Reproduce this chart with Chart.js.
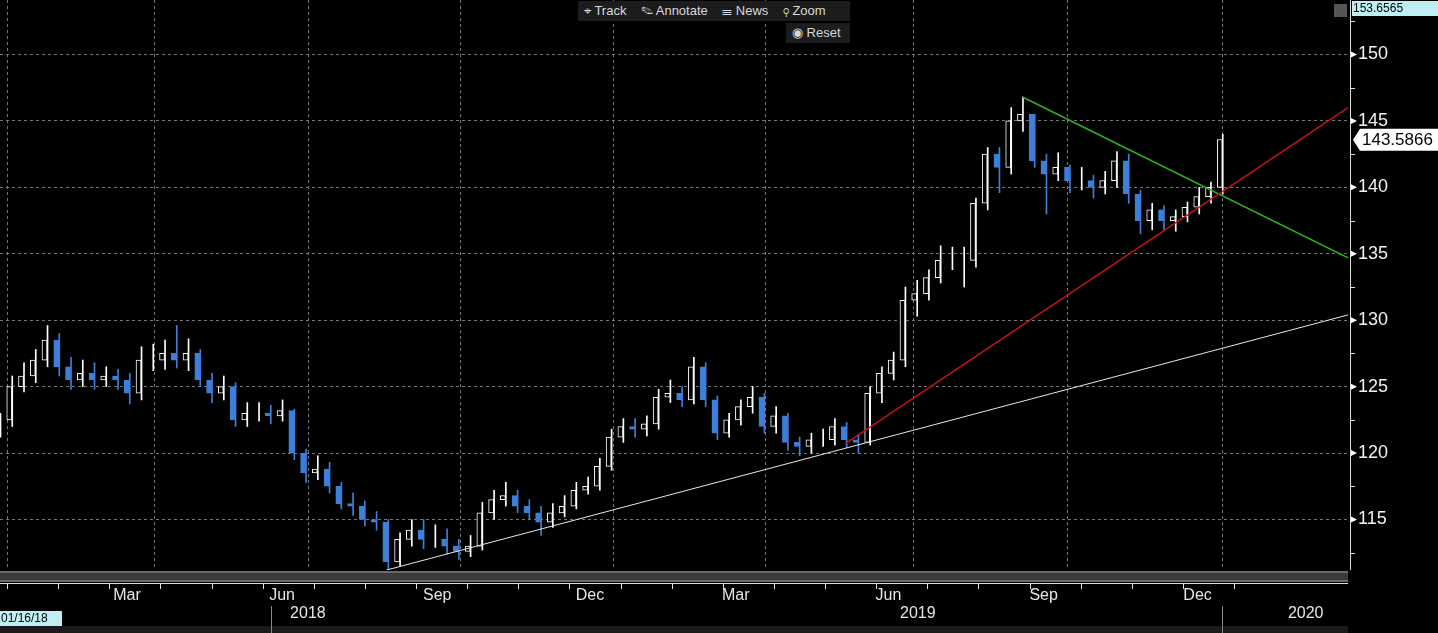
<!DOCTYPE html>
<html>
<head>
<meta charset="utf-8">
<script src="https://cdn.jsdelivr.net/npm/chart.js@4.4.1/dist/chart.umd.min.js"></script>
<style>
  html, body { margin: 0; padding: 0; background: #000; overflow: hidden; }
  #wrap { position: relative; width: 1438px; height: 633px; }
  .btn { position: absolute; background: #1c1c1c; color: #d8d8d8; font: 13px "Liberation Sans", Arial, sans-serif;
         height: 20px; line-height: 20px; padding: 0 6px; }
</style>
</head>
<body>
<div id="wrap">
  <canvas id="chart" width="1438" height="633"></canvas>
  <div class="btn" style="left:578px;top:1px;width:260px;">&#8982; Track &nbsp;&nbsp; &#9998; Annotate &nbsp;&nbsp; &#9776; News &nbsp;&nbsp; &#9906; Zoom</div>
  <div class="btn" style="left:786px;top:23px;width:52px;">&#9673; Reset</div>
</div>
<script>
// --- Data (weekly candles, week 0 = 01/16/18) ---
const closes = [122.5,125,125.8,127,128.5,126.5,125.5,126,125.5,125.8,125.5,124.5,127,127,127.5,127,127.5,125.5,124.5,125,
  122.5,123,123,122.8,123.2,120,118.5,118.8,117.5,116.2,116,115,114.8,111.8,113.5,114.2,113.5,113.5,113,112.6,
  113,115.5,116.5,116.8,116,115.5,114.8,115.5,116,117.2,117.5,119,121.2,122,121.8,122.2,124.2,124.5,124,126.5,
  124,121.5,122.5,123.5,124.2,122,122.8,120.8,120.5,121,121,122,121,120.8,124.5,126,127,131.5,132,133.2,
  134.5,134.5,134.5,138.8,142.5,141.5,145,145.5,142,141,141.5,140.5,140.5,140,140.5,142,139.5,137.5,138.3,137.5,
  137.8,138.5,139.3,140,143.6];
const opens = [121.5,122.5,125,125.8,127,128.5,126.5,125.5,126,125.5,125.8,125.5,124.5,127,127,127.5,127,127.5,125.5,124.5,
  125,122.5,123,123,122.8,123.2,120,118.5,118.8,117.5,116.2,116,115,114.8,111.8,113.5,114.2,113.5,113.5,113,
  112.6,113,115.5,116.5,116.8,116,115.5,114.8,115.5,116,117.2,117.5,119,121.2,122,121.8,122.2,124.2,124.5,124,
  126.5,124,121.5,122.5,123.5,124.2,122,122.8,120.8,120.5,121,121,122,121,120.8,124.5,126,127,131.5,132,
  133.2,134.5,134.5,134.5,138.8,142.5,141.5,145,145.5,142,141,141.5,140.5,140.5,140,140.5,142,139.5,137.5,138.3,
  137.5,137.8,138.5,139.3,140];
const highs = [123,125.8,126.8,127.8,129.6,129,127.2,127,126.8,126.5,126.3,126,128,128.2,128.5,129.6,128.6,127.8,126,125.8,
  125.3,123.8,123.8,123.6,124,123.3,120.3,119.8,119.3,117.8,117,116.4,115.6,115,114,115,115,114.6,114.3,113.5,
  113.8,116.3,117.2,117.8,117.2,116.5,116,116.2,116.8,117.8,118.2,119.6,121.8,122.6,122.6,122.8,124.8,125.5,125,127.2,
  126.8,124.3,123,124,125,124.5,123.5,123,121.2,121.5,121.8,122.6,122.3,121.4,125,126.5,127.6,132.5,133,133.8,
  135.6,135.5,135.5,139.2,143,143,146,146.8,145.5,142.5,142.6,141.7,141.5,140.9,141.2,142.7,142.5,139.8,138.8,138.6,
  138.3,138.9,140,140.4,144];
const lows = [121.2,122,124.6,125.3,126.5,125.8,124.8,125,124.8,125,124.8,123.7,124,126.2,126.3,126.4,126.2,125,123.8,124,
  122,122,122.4,122.2,122.4,119.5,117.8,118,117,115.8,115.3,114.5,114.2,111.2,111.5,113,112.8,112.9,112.4,112,
  112.2,112.7,115,116,115.5,115,113.8,114.4,115.2,115.8,116.9,117.2,118.7,120.8,121.2,121.3,121.8,123.8,123.5,123.7,
  123.5,121,121.2,122.1,123,121.5,121.5,120.2,119.8,120,120.5,120.6,120.4,120,120.6,123.8,125.5,126.5,130.3,131.5,
  132.8,133.8,132.5,134,138.3,139.6,141,144.2,141.5,138,140.5,139.6,139.8,139.2,139.5,140,138.8,136.5,136.8,136.8,
  136.7,137.4,138,138.8,139.5];

// trend lines: [week, price]
const whiteLine = [[32.9, 111.2], [114.7, 130.4]];
const redLine = [[71.9, 120.7], [114.7, 146.0]];
const greenLine = [[87.0, 146.8], [114.7, 134.7]];

const yTicks = [115, 120, 125, 130, 135, 140, 145, 150];
const gridWeeks = [0.6, 13.1, 26.2, 39.1, 52.2, 65.1, 77.7, 90.8, 104];
const monthLabels = ['Mar', 'Jun', 'Sep', 'Dec', 'Mar', 'Jun', 'Sep', 'Dec'];
const monthLabelWeeks = [10.8, 24.0, 37.2, 50.2, 62.6, 75.6, 88.8, 101.9];
const yearLabels = ['2018', '2019', '2020'];
const yearLabelWeeks = [26.2, 78.1, 111.1];
const yearSepWeeks = [23.1, 104];
const lastPrice = 143.5866;
const topValue = 153.6565;

const X_MAX = 114.7;
const Y_MIN = 111.2, Y_MAX = 154.1;
const UP = '#ffffff', DOWN = '#3d7fd9';

const bodies = closes.map((c, i) => ({ x: i, y: [opens[i], c] }));
const wicks = closes.map((c, i) => ({ x: i, y: [lows[i], highs[i]] }));
const upDown = closes.map((c, i) => c >= opens[i]);

const toXY = arr => arr.map(p => ({ x: p[0], y: p[1] }));

const decorations = {
  id: 'decorations',
  beforeDatasetsDraw(chart) {
    const { ctx, chartArea: a, scales: { x } } = chart;
    ctx.save();
    ctx.strokeStyle = '#777';
    ctx.lineWidth = 1;
    ctx.setLineDash([3, 3]);
    gridWeeks.forEach(w => {
      const px = Math.round(x.getPixelForValue(w)) + 0.5;
      ctx.beginPath(); ctx.moveTo(px, a.top); ctx.lineTo(px, a.bottom); ctx.stroke();
    });
    ctx.restore();
  },
  afterDraw(chart) {
    const { ctx, chartArea: a, scales: { x, y } } = chart;
    ctx.save();
    // volume pane strip
    ctx.fillStyle = '#3a3a3a';
    ctx.fillRect(0, a.bottom + 1, a.right, 11);
    ctx.fillStyle = '#6a6a6a';
    ctx.fillRect(0, a.bottom + 1, a.right, 2);
    ctx.fillRect(0, a.bottom + 10, a.right, 2);
    // time axis line and month ticks
    ctx.strokeStyle = '#ddd';
    ctx.lineWidth = 1;
    ctx.beginPath(); ctx.moveTo(0, 583.5); ctx.lineTo(a.right, 583.5); ctx.stroke();
    for (let w = 0.6; w < 105; w += 4.35) {
      const px = Math.round(x.getPixelForValue(w)) + 0.5;
      ctx.beginPath(); ctx.moveTo(px, 584); ctx.lineTo(px, 589); ctx.stroke();
    }
    ctx.fillStyle = '#e6e6e6';
    ctx.font = '16px "Liberation Sans", Arial, sans-serif';
    ctx.textAlign = 'center';
    ctx.textBaseline = 'middle';
    monthLabels.forEach((m, i) => ctx.fillText(m, x.getPixelForValue(monthLabelWeeks[i]), 596));
    yearLabels.forEach((m, i) => ctx.fillText(m, x.getPixelForValue(yearLabelWeeks[i]), 614));
    // bottom band
    ctx.fillStyle = '#1a1a1a';
    ctx.fillRect(0, 626, a.right, 7);
    ctx.strokeStyle = '#888';
    yearSepWeeks.forEach(w => {
      const px = Math.round(x.getPixelForValue(w)) + 0.5;
      ctx.beginPath(); ctx.moveTo(px, 606); ctx.lineTo(px, 633); ctx.stroke();
    });
    // start date label
    ctx.fillStyle = '#bfeff2';
    ctx.fillRect(0, 611, 62, 15);
    ctx.fillStyle = '#000';
    ctx.font = '12px "Liberation Sans", Arial, sans-serif';
    ctx.textAlign = 'left';
    ctx.fillText('01/16/18', 1, 619);
    // right axis line
    ctx.strokeStyle = '#ddd';
    ctx.beginPath(); ctx.moveTo(a.right + 2.5, 0); ctx.lineTo(a.right + 2.5, a.bottom); ctx.stroke();
    // minor ticks / triangles
    for (let v = 112.5; v < 154; v += 2.5) {
      const py = Math.round(y.getPixelForValue(v)) + 0.5;
      ctx.beginPath(); ctx.moveTo(a.right + 2, py); ctx.lineTo(a.right + 7, py); ctx.stroke();
    }
    ctx.fillStyle = '#fff';
    yTicks.forEach(v => {
      const py = y.getPixelForValue(v);
      ctx.beginPath(); ctx.moveTo(a.right + 3, py - 3); ctx.lineTo(a.right + 9, py); ctx.lineTo(a.right + 3, py + 3); ctx.fill();
    });
    // last price label
    const lp = y.getPixelForValue(lastPrice);
    ctx.fillStyle = '#fff';
    ctx.beginPath();
    ctx.moveTo(a.right + 5, lp);
    ctx.lineTo(a.right + 12, lp - 11);
    ctx.lineTo(1438, lp - 11);
    ctx.lineTo(1438, lp + 11);
    ctx.lineTo(a.right + 12, lp + 11);
    ctx.closePath(); ctx.fill();
    ctx.fillStyle = '#000';
    ctx.font = '17px "Liberation Sans", Arial, sans-serif';
    ctx.textBaseline = 'middle';
    ctx.fillText(lastPrice.toFixed(4), a.right + 14, lp + 1);
    // top value label
    ctx.fillStyle = '#bfeff2';
    ctx.fillRect(a.right + 4, 1, 86, 15);
    ctx.fillStyle = '#000';
    ctx.font = '12px "Liberation Sans", Arial, sans-serif';
    ctx.fillText(topValue.toFixed(4), a.right + 5, 9);
    ctx.fillStyle = '#555';
    ctx.fillRect(a.right - 14, 4, 13, 13);
    ctx.restore();
  }
};

new Chart(document.getElementById('chart'), {
  data: {
    datasets: [
      { type: 'line', data: toXY(whiteLine), borderColor: '#e8e8e8', borderWidth: 1, pointRadius: 0, order: 0 },
      { type: 'line', data: toXY(redLine), borderColor: '#c0141b', borderWidth: 1.5, pointRadius: 0, order: 0 },
      { type: 'line', data: toXY(greenLine), borderColor: '#2fb21f', borderWidth: 1.5, pointRadius: 0, order: 0 },
      { type: 'bar', data: bodies, order: 1, barThickness: 5, borderSkipped: false, borderWidth: 1,
        backgroundColor: upDown.map(u => u ? '#000' : DOWN),
        borderColor: upDown.map(u => u ? UP : DOWN) },
      { type: 'bar', data: wicks, order: 2, barThickness: 1,
        backgroundColor: upDown.map(u => u ? UP : DOWN) }
    ]
  },
  options: {
    responsive: false,
    animation: false,
    layout: { padding: { left: 0, right: 0, top: 0, bottom: 63 } },
    plugins: { legend: { display: false }, tooltip: { enabled: false } },
    scales: {
      x: { type: 'linear', min: 0, max: X_MAX, display: false, grid: { display: false }, offset: false },
      y: {
        position: 'right', min: Y_MIN, max: Y_MAX,
        afterFit: s => { s.width = 90; s.paddingTop = 0; s.paddingBottom = 0; },
        afterBuildTicks: s => { s.ticks = yTicks.map(v => ({ value: v })); },
        border: { display: false, dash: [3, 3] },
        grid: { color: '#777', lineWidth: 1, drawTicks: false },
        ticks: { color: '#f0f0f0', padding: 10, font: { size: 18, family: '"Liberation Sans", Arial, sans-serif' } }
      }
    }
  },
  plugins: [decorations]
});
</script>
</body>
</html>
